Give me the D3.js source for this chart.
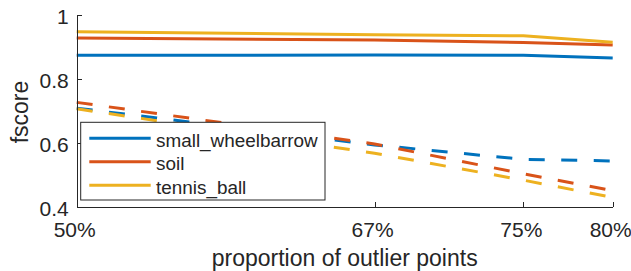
<!DOCTYPE html>
<html>
<head>
<meta charset="utf-8">
<script src="https://cdn.jsdelivr.net/npm/d3@7"></script>
<style>
  html, body { margin: 0; padding: 0; background: #fff; }
  svg { display: block; }
  text { font-family: "Liberation Sans", Arial, Helvetica, sans-serif; fill: #262626; }
</style>
</head>
<body>
<svg id="chart" width="631" height="271"></svg>
<script>
// ---- data ----
const proportions = [50, 66.67, 75, 80];
const xTickLabels = ["50%", "67%", "75%", "80%"];
const yTicks = [0.4, 0.6, 0.8, 1];
const seriesNames = ["small_wheelbarrow", "soil", "tennis_ball"];
const solidWheelbarrow = [0.873, 0.874, 0.873, 0.865];
const solidSoil = [0.927, 0.921, 0.913, 0.905];
const solidTennis = [0.947, 0.937, 0.934, 0.914];
const dashedWheelbarrow = [0.708, 0.593, 0.548, 0.543];
const dashedSoil = [0.726, 0.596, 0.503, 0.450];
const dashedTennis = [0.706, 0.567, 0.483, 0.429];
const colors = ["#0072BD", "#D95319", "#EDB120"];

// ---- layout ----
const svg = d3.select("#chart");
const plotLeft = 76.7, plotRight = 612.7, plotTop = 14.7, plotBottom = 206.7;
const x = d3.scaleLinear().domain([50, 80]).range([plotLeft, plotRight]);
const y = d3.scaleLinear().domain([0.4, 1]).range([plotBottom, plotTop]);
const axisColor = "#262626";

const line = d3.line().x((d, i) => x(proportions[i])).y(d => y(d));

const solid = [solidWheelbarrow, solidSoil, solidTennis];
const dashed = [dashedWheelbarrow, dashedSoil, dashedTennis];

solid.forEach((s, i) => {
  svg.append("path").datum(s).attr("d", line)
    .attr("fill", "none").attr("stroke", colors[i]).attr("stroke-width", 3)
    .attr("stroke-linejoin", "round");
});
dashed.forEach((s, i) => {
  svg.append("path").datum(s).attr("d", line)
    .attr("fill", "none").attr("stroke", colors[i]).attr("stroke-width", 3)
    .attr("stroke-dasharray", "16,16.5");
});

// ---- axes ----
const yAxis = d3.axisLeft(y).tickValues(yTicks).tickSizeInner(-5).tickSizeOuter(0)
  .tickFormat(d => d === 1 ? "1" : d3.format(".1f")(d));
const gy = svg.append("g").attr("transform", `translate(${plotLeft},0)`).call(yAxis);
gy.select(".domain").attr("stroke", axisColor).attr("stroke-width", 1);
gy.selectAll(".tick line").attr("stroke", axisColor);
gy.selectAll(".tick text").attr("x", -8).attr("dy", null).attr("y", 8.5)
  .attr("text-anchor", "end").style("font-size", "21px").attr("fill", axisColor);

const xAxis = d3.axisBottom(x).tickValues(proportions).tickSizeInner(-5).tickSizeOuter(0)
  .tickFormat((d, i) => xTickLabels[i]);
const gx = svg.append("g").attr("transform", `translate(0,${plotBottom})`).call(xAxis);
gx.select(".domain").attr("stroke", axisColor).attr("stroke-width", 1);
gx.selectAll(".tick line").attr("stroke", axisColor);
gx.selectAll(".tick text").attr("dy", null).attr("y", 30).attr("x", -2.5)
  .style("font-size", "21px").attr("fill", axisColor);
svg.selectAll(".domain, .tick line").attr("shape-rendering", "crispEdges");

// axis labels
svg.append("text").attr("x", (plotLeft + plotRight) / 2).attr("y", 265.5)
  .attr("text-anchor", "middle").style("font-size", "23px")
  .text("proportion of outlier points");
svg.append("text").attr("transform", `translate(28,112) rotate(-90)`)
  .attr("text-anchor", "middle").style("font-size", "23px")
  .text("fscore");

// ---- legend ----
const lg = svg.append("g");
lg.append("rect").attr("x", 80.7).attr("y", 122.3).attr("width", 244.3).attr("height", 77.7)
  .attr("fill", "#fff").attr("stroke", axisColor).attr("stroke-width", 1);
seriesNames.forEach((name, i) => {
  const ry = 138.3 + i * 23.5;
  lg.append("line").attr("x1", 89.3).attr("x2", 150.7).attr("y1", ry).attr("y2", ry)
    .attr("stroke", colors[i]).attr("stroke-width", 3);
  lg.append("text").attr("x", 156).attr("y", ry + 8.4).style("font-size", "18.9px").text(name);
});
</script>
</body>
</html>
